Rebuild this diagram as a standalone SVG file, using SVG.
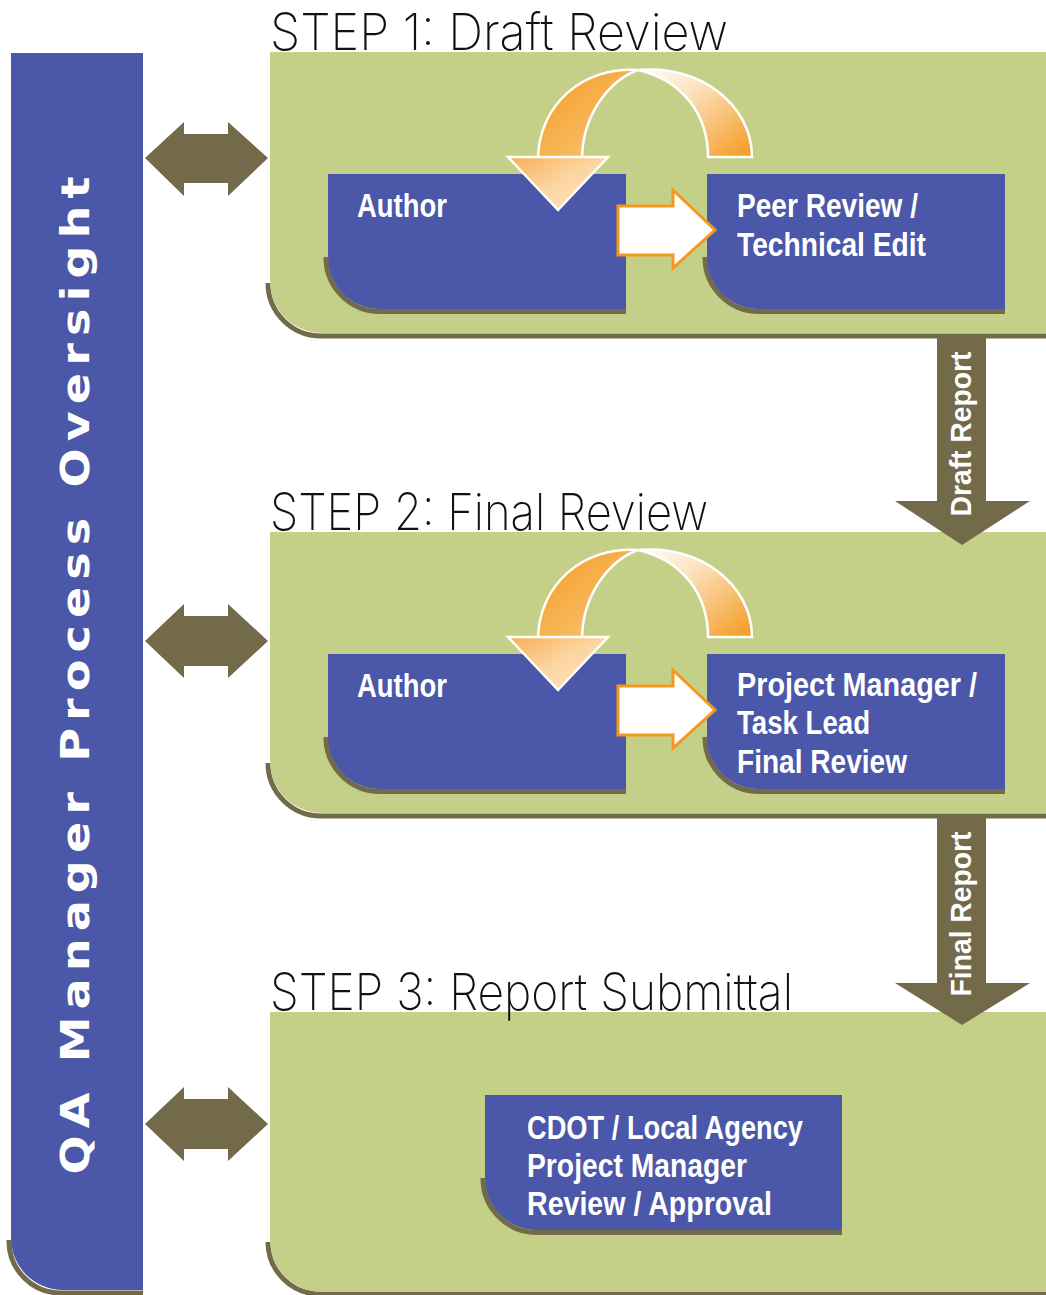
<svg xmlns="http://www.w3.org/2000/svg" width="1046" height="1295" viewBox="0 0 1046 1295">
<style>
.blue{fill:#4B57A8}
.green{fill:#C4CF88}
.shadow{fill:none;stroke:#736A4A;stroke-width:5}
.olive{fill:#736A4A}
.box{font-family:"Liberation Sans Narrow","Liberation Sans",Arial,sans-serif;font-weight:bold;font-size:33px;fill:#fff}
.step{font-family:Inter,Lato,"Open Sans","DejaVu Sans",sans-serif;font-weight:200;font-size:51px;fill:#111}
.side{font-family:"DejaVu Sans",Verdana,sans-serif;font-weight:bold;font-size:39px;letter-spacing:6px;fill:#fff}
.down{font-family:"Liberation Sans Narrow","Liberation Sans",Arial,sans-serif;font-weight:bold;font-size:30px;fill:#fff}
.straight{fill:#fff;stroke:#F39A1E;stroke-width:3;stroke-linejoin:miter}
.loopL{fill:url(#gL);stroke:#fff;stroke-width:2.5}
.loopR{fill:url(#gR);stroke:#fff;stroke-width:2.5}
.head{fill:url(#gH);stroke:#fff;stroke-width:2.5}
</style>
<defs>
<linearGradient id="gL" x1="0" y1="0" x2="1" y2="1">
<stop offset="0" stop-color="#F39A1E"/>
<stop offset="1" stop-color="#FBCB86"/>
</linearGradient>
<linearGradient id="gR" x1="0" y1="0" x2="1" y2="1">
<stop offset="0" stop-color="#FFFFFF"/>
<stop offset="0.35" stop-color="#FCE3C0"/>
<stop offset="1" stop-color="#F39A1E"/>
</linearGradient>
<linearGradient id="gH" x1="0" y1="0" x2="1" y2="1">
<stop offset="0" stop-color="#F7B055"/>
<stop offset="0.5" stop-color="#FCD6A2"/>
<stop offset="1" stop-color="#FDE6C5"/>
</linearGradient>
</defs>
<rect width="1046" height="1295" fill="#fff"/>

<g id="qa-oversight">
<path class="shadow" d="M9,1240 A52,52 0 0 0 63,1293 H143"/>
<path class="blue" d="M11,53 H143 V1290 H63 A52,52 0 0 1 11,1238 Z"/>
<text class="side" transform="translate(89,672) rotate(-90)" text-anchor="middle" textLength="1005" lengthAdjust="spacingAndGlyphs">QA Manager Process Oversight</text>
</g>

<g id="step1">
<path class="shadow" d="M268,283 A53,53 0 0 0 321,336 H1046"/>
<path class="green" d="M270,52 H1046 V333 H322 A52,52 0 0 1 270,281 Z"/>
<text class="step" x="270" y="50" textLength="458" lengthAdjust="spacingAndGlyphs">STEP 1: Draft Review</text>
</g>
<g id="step2">
<path class="shadow" d="M268,763 A53,53 0 0 0 321,816 H1046"/>
<path class="green" d="M270,532 H1046 V813 H322 A52,52 0 0 1 270,761 Z"/>
<text class="step" x="270" y="530" textLength="438" lengthAdjust="spacingAndGlyphs">STEP 2: Final Review</text>
</g>
<g id="step3">
<path class="shadow" d="M268,1242 A52,52 0 0 0 320,1294 H1046"/>
<path class="green" d="M270,1012 H1046 V1292 H322 A52,52 0 0 1 270,1240 Z"/>
<text class="step" x="270" y="1010" textLength="523" lengthAdjust="spacingAndGlyphs">STEP 3: Report Submittal</text>
</g>

<g id="author1">
<path class="shadow" d="M326,257 A54,54 0 0 0 380,311.5 H626"/>
<path class="blue" d="M328,174 H626 V309 H380 A52,52 0 0 1 328,257 Z"/>
<text class="box" x="357" y="217" textLength="90" lengthAdjust="spacingAndGlyphs">Author</text>
</g>
<g id="peer-review">
<path class="shadow" d="M705,257 A54,54 0 0 0 759,311.5 H1005"/>
<path class="blue" d="M707,174 H1005 V309 H759 A52,52 0 0 1 707,257 Z"/>
<text class="box" x="737" y="217" textLength="181" lengthAdjust="spacingAndGlyphs">Peer Review /</text>
<text class="box" x="737" y="256" textLength="189" lengthAdjust="spacingAndGlyphs">Technical Edit</text>
</g>
<g id="author2">
<path class="shadow" d="M326,737 A54,54 0 0 0 380,791.5 H626"/>
<path class="blue" d="M328,654 H626 V789 H380 A52,52 0 0 1 328,737 Z"/>
<text class="box" x="357" y="697" textLength="90" lengthAdjust="spacingAndGlyphs">Author</text>
</g>
<g id="pm-final-review">
<path class="shadow" d="M705,737 A54,54 0 0 0 759,791.5 H1005"/>
<path class="blue" d="M707,654 H1005 V789 H759 A52,52 0 0 1 707,737 Z"/>
<text class="box" x="737" y="696" textLength="240" lengthAdjust="spacingAndGlyphs">Project Manager /</text>
<text class="box" x="737" y="734" textLength="133" lengthAdjust="spacingAndGlyphs">Task Lead</text>
<text class="box" x="737" y="773" textLength="170" lengthAdjust="spacingAndGlyphs">Final Review</text>
</g>
<g id="cdot-approval">
<path class="shadow" d="M483,1178 A54,54 0 0 0 537,1232.5 H842"/>
<path class="blue" d="M485,1095 H842 V1230 H537 A52,52 0 0 1 485,1178 Z"/>
<text class="box" x="527" y="1139" textLength="276" lengthAdjust="spacingAndGlyphs">CDOT / Local Agency</text>
<text class="box" x="527" y="1177" textLength="220" lengthAdjust="spacingAndGlyphs">Project Manager</text>
<text class="box" x="527" y="1215" textLength="245" lengthAdjust="spacingAndGlyphs">Review / Approval</text>
</g>

<g id="connectors">
<polygon class="olive" points="145,158 184,122 184,134 228,134 228,122 268,158 228,196 228,183 184,183 184,196"/>
<polygon class="olive" points="145,641 184,604 184,616 228,616 228,604 268,641 228,678 228,666 184,666 184,678"/>
<polygon class="olive" points="145,1124 184,1087 184,1099 228,1099 228,1087 268,1124 228,1161 228,1149 184,1149 184,1161"/>

<polygon class="olive" points="937,338 986,338 986,501 1030,501 962,545 895,501 937,501"/>
<text class="down" transform="translate(971,434) rotate(-90)" text-anchor="middle" textLength="165" lengthAdjust="spacingAndGlyphs">Draft Report</text>
<polygon class="olive" points="937,818 986,818 986,983 1030,983 962,1025 895,983 937,983"/>
<text class="down" transform="translate(971,914) rotate(-90)" text-anchor="middle" textLength="165" lengthAdjust="spacingAndGlyphs">Final Report</text>

<g id="loop1">
<path class="loopR" d="M638,70 C700,64 752,105 752,157 L708,157 C708,114 682,80 638,70 Z"/>
<path class="loopL" d="M538,160 C538,105 583,66 638,70 C610,80 582,114 582,160 Z"/>
<polygon class="head" points="508,157 608,157 558,210"/>
</g>
<polygon class="straight" points="618,206 673,206 673,190 715,230 673,268 673,255 618,255"/>

<g id="loop2">
<path class="loopR" d="M638,550 C700,544 752,585 752,637 L708,637 C708,594 682,560 638,550 Z"/>
<path class="loopL" d="M538,640 C538,585 583,546 638,550 C610,560 582,594 582,640 Z"/>
<polygon class="head" points="508,637 608,637 558,690"/>
</g>
<polygon class="straight" points="618,686 673,686 673,670 715,710 673,748 673,735 618,735"/>
</g>
</svg>
